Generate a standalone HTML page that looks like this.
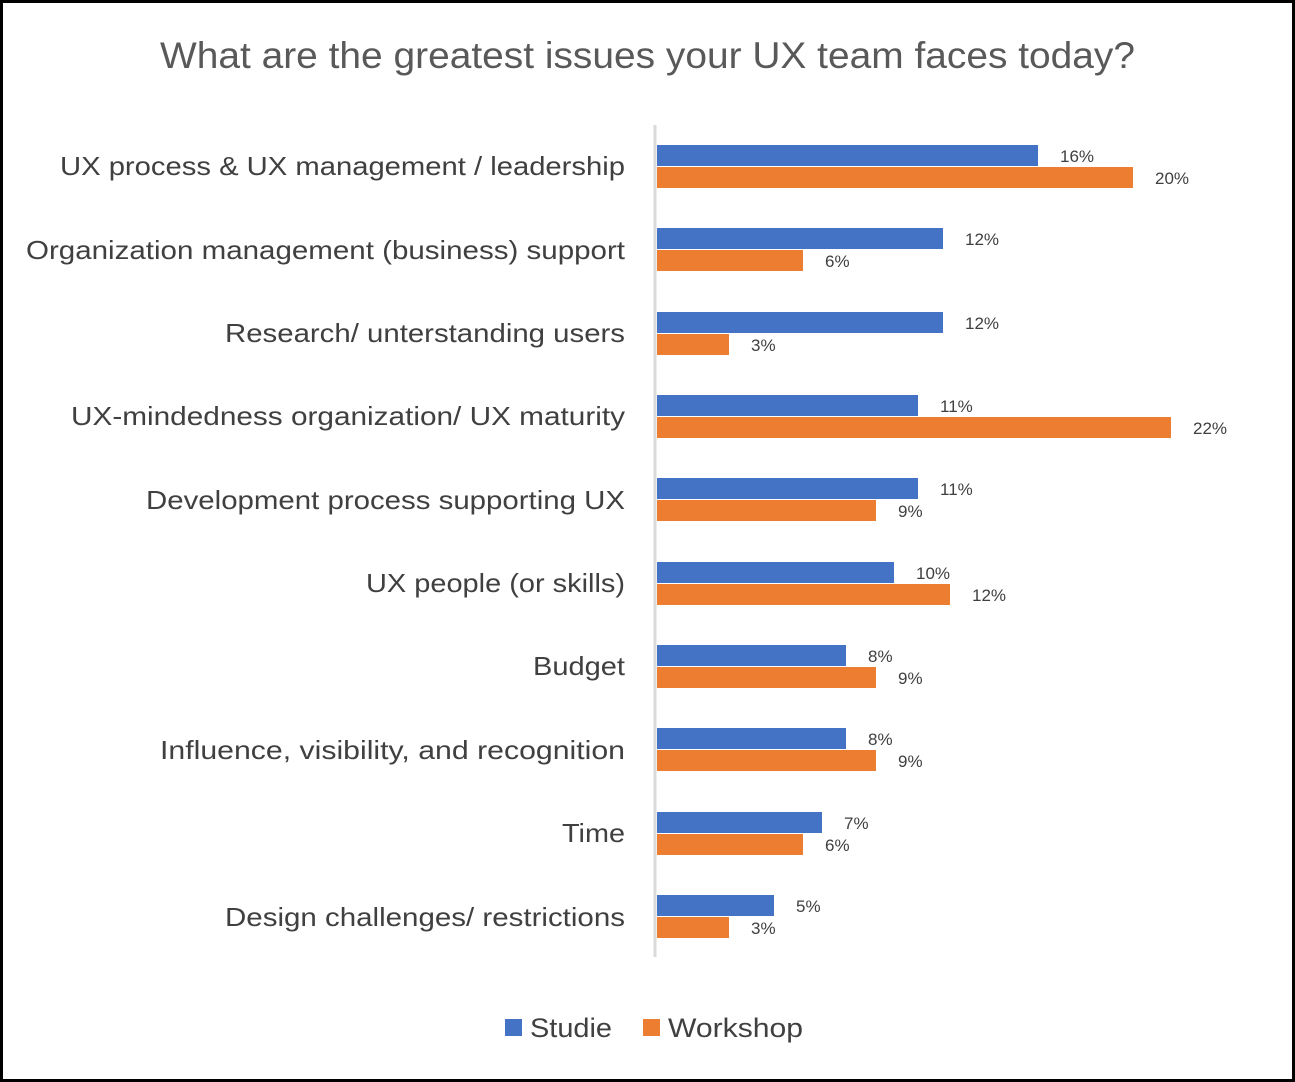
<!DOCTYPE html>
<html><head><meta charset="utf-8"><style>
body{margin:0;background:#fff}
svg{display:block}
text{font-family:"Liberation Sans","DejaVu Sans",sans-serif}
</style></head><body>
<svg width="1295" height="1082" xmlns="http://www.w3.org/2000/svg">
<rect x="1.5" y="1.5" width="1292" height="1079" fill="#fff" stroke="#000" stroke-width="3"/>
<text x="160" y="68" font-size="37" fill="#595959" textLength="975" lengthAdjust="spacingAndGlyphs">What are the greatest issues your UX team faces today?</text>
<line x1="655" y1="125" x2="655" y2="957" stroke="#d9d9d9" stroke-width="3"/>
<g font-size="26" fill="#404040" text-anchor="end" lengthAdjust="spacingAndGlyphs">
<text x="625" y="175" textLength="565" lengthAdjust="spacingAndGlyphs">UX process &amp; UX management / leadership</text>
<text x="625" y="259" textLength="599" lengthAdjust="spacingAndGlyphs">Organization management (business) support</text>
<text x="625" y="342" textLength="400" lengthAdjust="spacingAndGlyphs">Research/ unterstanding users</text>
<text x="625" y="425" textLength="554" lengthAdjust="spacingAndGlyphs">UX-mindedness organization/ UX maturity</text>
<text x="625" y="509" textLength="479" lengthAdjust="spacingAndGlyphs">Development process supporting UX</text>
<text x="625" y="592" textLength="259" lengthAdjust="spacingAndGlyphs">UX people (or skills)</text>
<text x="625" y="675" textLength="92" lengthAdjust="spacingAndGlyphs">Budget</text>
<text x="625" y="759" textLength="465" lengthAdjust="spacingAndGlyphs">Influence, visibility, and recognition</text>
<text x="625" y="842" textLength="63" lengthAdjust="spacingAndGlyphs">Time</text>
<text x="625" y="926" textLength="400" lengthAdjust="spacingAndGlyphs">Design challenges/ restrictions</text>
</g>
<g fill="#4472C4">
<rect x="657" y="145" width="381" height="21"/>
<rect x="657" y="228" width="286" height="21"/>
<rect x="657" y="312" width="286" height="21"/>
<rect x="657" y="395" width="261" height="21"/>
<rect x="657" y="478" width="261" height="21"/>
<rect x="657" y="562" width="237" height="21"/>
<rect x="657" y="645" width="189" height="21"/>
<rect x="657" y="728" width="189" height="21"/>
<rect x="657" y="812" width="165" height="21"/>
<rect x="657" y="895" width="117" height="21"/>
</g>
<g fill="#ED7D31">
<rect x="657" y="167" width="476" height="21"/>
<rect x="657" y="250" width="146" height="21"/>
<rect x="657" y="334" width="72" height="21"/>
<rect x="657" y="417" width="514" height="21"/>
<rect x="657" y="500" width="219" height="21"/>
<rect x="657" y="584" width="293" height="21"/>
<rect x="657" y="667" width="219" height="21"/>
<rect x="657" y="750" width="219" height="21"/>
<rect x="657" y="834" width="146" height="21"/>
<rect x="657" y="917" width="72" height="21"/>
</g>
<g font-size="17" fill="#404040">
<text x="1060" y="162">16%</text><text x="1155" y="184">20%</text>
<text x="965" y="245">12%</text><text x="825" y="267">6%</text>
<text x="965" y="329">12%</text><text x="751" y="351">3%</text>
<text x="940" y="412">11%</text><text x="1193" y="434">22%</text>
<text x="940" y="495">11%</text><text x="898" y="517">9%</text>
<text x="916" y="579">10%</text><text x="972" y="601">12%</text>
<text x="868" y="662">8%</text><text x="898" y="684">9%</text>
<text x="868" y="745">8%</text><text x="898" y="767">9%</text>
<text x="844" y="829">7%</text><text x="825" y="851">6%</text>
<text x="796" y="912">5%</text><text x="751" y="934">3%</text>
</g>
<rect x="505" y="1019" width="17" height="17" fill="#4472C4"/>
<text x="530" y="1037" font-size="27" fill="#404040" textLength="82" lengthAdjust="spacingAndGlyphs">Studie</text>
<rect x="643" y="1019" width="17" height="17" fill="#ED7D31"/>
<text x="668" y="1037" font-size="27" fill="#404040" textLength="135" lengthAdjust="spacingAndGlyphs">Workshop</text>
</svg>
</body></html>
